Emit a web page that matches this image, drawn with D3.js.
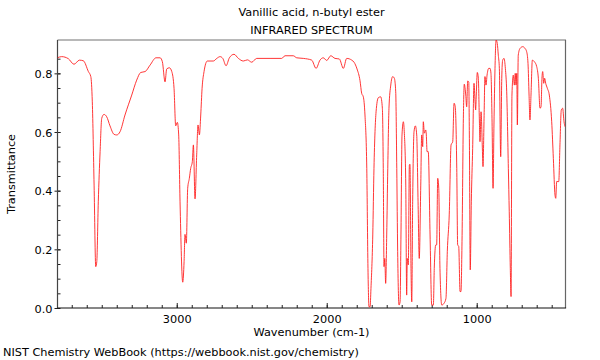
<!DOCTYPE html>
<html>
<head>
<meta charset="utf-8">
<script src="https://cdn.jsdelivr.net/npm/d3@7"></script>
<style>
    body { margin: 0; background: #fff; }
    svg text { font-family: "DejaVu Sans", sans-serif; font-size: 11.3px; fill: #000; }
</style>
</head>
<body>
<svg id="chart" width="600" height="360"></svg>
<script>
const title = 'Vanillic acid, n-butyl ester';
const subtitle = 'INFRARED SPECTRUM';
const xLabel = 'Wavenumber (cm-1)';
const yLabel = 'Transmittance';
const source = 'NIST Chemistry WebBook (https://webbook.nist.gov/chemistry)';

const xTicks = [3000, 2000, 1000];
const yTicks = [0, 0.2, 0.4, 0.6, 0.8];

// spectrum
const wavenumber = [
    3796, 3767, 3723, 3685, 3649, 3623, 3589, 3573, 3563, 3551, 3540, 3533, 3523, 3511, 3500,
    3485, 3467, 3445, 3418, 3400, 3378, 3345, 3300, 3267, 3240, 3211, 3178, 3138, 3111, 3096,
    3078, 3067, 3049, 3033, 3018, 3007, 2996, 2987, 2978, 2960, 2951, 2945, 2936, 2927, 2916,
    2907, 2896, 2889, 2878, 2867, 2858, 2849, 2840, 2831, 2818, 2796, 2756, 2733, 2711, 2693,
    2671, 2649, 2618, 2589, 2556, 2529, 2500, 2467, 2378, 2300, 2278, 2223, 2200, 2156, 2100,
    2071, 2045, 2023, 2000, 1973, 1945, 1916, 1889, 1867, 1833, 1818, 1798, 1778, 1767, 1756,
    1745, 1733, 1725, 1718, 1711, 1705, 1693, 1685, 1671, 1656, 1640, 1629, 1623, 1618, 1613,
    1607, 1600, 1593, 1585, 1573, 1560, 1549, 1540, 1533, 1527, 1518, 1511, 1505, 1498, 1489,
    1483, 1473, 1467, 1463, 1456, 1449, 1445, 1438, 1433, 1427, 1418, 1409, 1400, 1391, 1383,
    1373, 1367, 1360, 1356, 1349, 1340, 1336, 1331, 1323, 1311, 1300, 1289, 1283, 1273, 1267,
    1260, 1253, 1245, 1233, 1218, 1205, 1196, 1183, 1171, 1160, 1151, 1143, 1133, 1127, 1120,
    1111, 1105, 1098, 1089, 1083, 1073, 1067, 1060, 1053, 1049, 1043, 1036, 1027, 1018, 1011,
    1007, 1003, 996, 989, 983, 978, 971, 963, 958, 951, 945, 938, 931, 920, 911,
    905, 898, 891, 885, 878, 871, 863, 856, 849, 840, 833, 827, 818, 809, 800,
    789, 783, 776, 771, 765, 756, 749, 743, 738, 733, 729, 723, 711, 693, 678,
    667, 658, 651, 645, 638, 629, 616, 600, 589, 578, 571, 565, 560, 553, 547,
    540, 529, 516, 500, 489, 478, 473, 467, 453, 445, 436, 427, 418, 411
];
const transmittance = [
    0.853, 0.857, 0.850, 0.831, 0.845, 0.843, 0.806, 0.789, 0.703, 0.419, 0.141, 0.158, 0.362, 0.533, 0.647,
    0.660, 0.652, 0.621, 0.592, 0.590, 0.601, 0.658, 0.726, 0.777, 0.803, 0.806, 0.828, 0.853, 0.853, 0.840,
    0.771, 0.815, 0.819, 0.806, 0.749, 0.621, 0.633, 0.590, 0.362, 0.088, 0.158, 0.251, 0.221, 0.408, 0.442,
    0.476, 0.499, 0.556, 0.372, 0.522, 0.624, 0.590, 0.658, 0.749, 0.806, 0.842, 0.842, 0.851, 0.857, 0.851,
    0.826, 0.853, 0.865, 0.851, 0.842, 0.846, 0.838, 0.851, 0.851, 0.851, 0.860, 0.860, 0.853, 0.851, 0.845,
    0.817, 0.845, 0.853, 0.844, 0.860, 0.851, 0.849, 0.817, 0.851, 0.845, 0.838, 0.815, 0.775, 0.732, 0.720,
    0.658, 0.476, 0.135, 0.004, 0.004, 0.067, 0.249, 0.476, 0.669, 0.717, 0.720, 0.681, 0.476, 0.141, 0.169,
    0.084, 0.249, 0.476, 0.681, 0.760, 0.789, 0.783, 0.737, 0.476, 0.192, 0.010, 0.021, 0.249, 0.590, 0.635,
    0.601, 0.419, 0.044, 0.169, 0.147, 0.487, 0.490, 0.135, 0.021, 0.362, 0.601, 0.621, 0.590, 0.362, 0.169,
    0.419, 0.590, 0.550, 0.635, 0.596, 0.607, 0.590, 0.533, 0.533, 0.249, 0.010, 0.010, 0.135, 0.215, 0.215,
    0.442, 0.408, 0.135, 0.010, 0.016, 0.033, 0.192, 0.320, 0.556, 0.567, 0.698, 0.686, 0.476, 0.215, 0.210,
    0.056, 0.056, 0.226, 0.647, 0.763, 0.726, 0.686, 0.774, 0.770, 0.590, 0.130, 0.362, 0.544, 0.766, 0.703,
    0.675, 0.726, 0.803, 0.783, 0.658, 0.567, 0.669, 0.556, 0.482, 0.647, 0.789, 0.760, 0.794, 0.817, 0.817,
    0.800, 0.647, 0.408, 0.624, 0.817, 0.914, 0.902, 0.862, 0.817, 0.516, 0.783, 0.845, 0.851, 0.817, 0.737,
    0.476, 0.328, 0.135, 0.039, 0.726, 0.794, 0.760, 0.800, 0.760, 0.800, 0.624, 0.862, 0.885, 0.891, 0.885,
    0.874, 0.834, 0.726, 0.641, 0.726, 0.845, 0.840, 0.823, 0.783, 0.681, 0.686, 0.783, 0.806, 0.766, 0.783,
    0.766, 0.749, 0.726, 0.635, 0.510, 0.385, 0.374, 0.431, 0.431, 0.556, 0.675, 0.681, 0.635, 0.618
];

const box = { left: 57.5, right: 565.5, top: 40, bottom: 308 };

const scaleX = d3.scaleLinear()
                 .domain([3795, 408])
                 .range([box.left, box.right]);

const scaleY = d3.scaleLinear()
                 .domain([0, 0.9137])
                 .range([box.bottom, box.top]);

const svg = d3.select('#chart');

svg.append('text')
    .attr('x', (box.left + box.right) / 2)
    .attr('y', 16)
    .attr('text-anchor', 'middle')
    .text(title);

svg.append('text')
    .attr('x', (box.left + box.right) / 2)
    .attr('y', 33.5)
    .attr('text-anchor', 'middle')
    .text(subtitle);

svg.append('defs').append('clipPath')
    .attr('id', 'plot')
    .append('rect')
        .attr('x', box.left)
        .attr('y', box.top)
        .attr('width', box.right - box.left)
        .attr('height', box.bottom - box.top);

// minor ticks first, majors drawn on top
const axisXMinor = d3.axisBottom(scaleX)
                     .tickValues(d3.range(500, 3800, 100))
                     .tickSizeInner(-3)
                     .tickSizeOuter(0)
                     .tickFormat('');

const axisYMinor = d3.axisLeft(scaleY)
                     .tickValues(d3.range(0.05, 0.9, 0.05))
                     .tickSizeInner(-3)
                     .tickSizeOuter(0)
                     .tickFormat('');

svg.append('g')
    .attr('transform', 'translate(0, ' + box.bottom + ')')
    .call(axisXMinor);

svg.append('g')
    .attr('transform', 'translate(' + box.left + ', 0)')
    .call(axisYMinor);

const axisX = d3.axisBottom(scaleX)
                .tickValues(xTicks)
                .tickSizeInner(-5)
                .tickSizeOuter(0)
                .tickPadding(7)
                .tickFormat(d3.format('d'));

const axisY = d3.axisLeft(scaleY)
                .tickValues(yTicks)
                .tickSizeInner(3)
                .tickSizeOuter(0)
                .tickPadding(2)
                .tickFormat(d3.format('.1f'));

svg.append('g')
    .attr('class', 'x axis')
    .attr('transform', 'translate(0, ' + box.bottom + ')')
    .call(axisX);

svg.append('g')
    .attr('class', 'y axis')
    .attr('transform', 'translate(' + box.left + ', 0)')
    .call(axisY)
    .call(g => g.selectAll('.tick line').attr('x2', 3).attr('x1', -3));

svg.selectAll('.domain').remove();
svg.selectAll('.tick line').attr('stroke', '#222');
svg.selectAll('.tick text').style('font-family', '"DejaVu Sans", sans-serif').style('font-size', '11.3px');
svg.selectAll('.y.axis .tick text').attr('dy', '0.36em');

// frame: dark left/bottom, grey top/right
svg.append('line')
    .attr('x1', box.left).attr('x2', box.right + 0.5)
    .attr('y1', box.top).attr('y2', box.top)
    .style('stroke', '#a0a0a0').style('stroke-width', 1.6);
svg.append('line')
    .attr('x1', box.right).attr('x2', box.right)
    .attr('y1', box.top).attr('y2', box.bottom)
    .style('stroke', '#666').style('stroke-width', 1.2);
svg.append('line')
    .attr('x1', box.left).attr('x2', box.left)
    .attr('y1', box.top).attr('y2', box.bottom)
    .style('stroke', '#444').style('stroke-width', 1.2);
svg.append('line')
    .attr('x1', box.left).attr('x2', box.right + 0.6)
    .attr('y1', box.bottom).attr('y2', box.bottom)
    .style('stroke', '#111').style('stroke-width', 1.2);

const line = d3.line()
               .x((d, i) => scaleX(wavenumber[i]))
               .y((d, i) => scaleY(transmittance[i]))
               .curve(d3.curveMonotoneX);

svg.append('path')
    .datum(wavenumber)
    .attr('clip-path', 'url(#plot)')
    .attr('d', line)
    .style('fill', 'none')
    .style('stroke', '#ff2020')
    .style('stroke-width', 0.9);

svg.append('text')
    .attr('x', (box.left + box.right) / 2)
    .attr('y', 336)
    .attr('text-anchor', 'middle')
    .text(xLabel);

svg.append('text')
    .attr('transform', 'translate(15, ' + ((box.top + box.bottom) / 2) + ') rotate(-90)')
    .attr('text-anchor', 'middle')
    .text(yLabel);

svg.append('text')
    .attr('x', 3)
    .attr('y', 356)
    .text(source);
</script>
</body>
</html>
